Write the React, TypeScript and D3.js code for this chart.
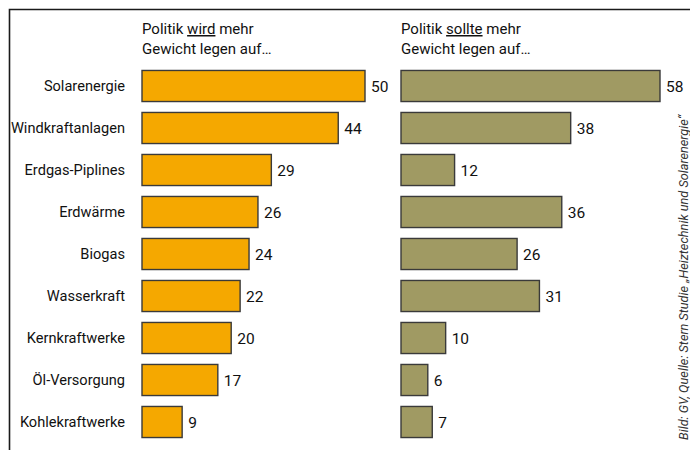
import React from "react";
import * as d3 from "d3";

const categories = [
  "Solarenergie",
  "Windkraftanlagen",
  "Erdgas-Piplines",
  "Erdwärme",
  "Biogas",
  "Wasserkraft",
  "Kernkraftwerke",
  "Öl-Versorgung",
  "Kohlekraftwerke",
];
const wirdValues = [50, 44, 29, 26, 24, 22, 20, 17, 9];
const sollteValues = [58, 38, 12, 36, 26, 31, 10, 6, 7];
const source = "Bild: GV, Quelle: Stern Studie „Heiztechnik und Solarenergie“";

const W = 690;
const H = 450;
const FONT = "Roboto, 'Liberation Sans', Arial, sans-serif";

export default function App() {
  const y = d3
    .scaleBand<string>()
    .domain(categories)
    .range([65, 443])
    .paddingInner(0.26)
    .paddingOuter(0.13);
  const xLeft = d3.scaleLinear().domain([0, 50]).range([142, 365]);
  const xRight = d3.scaleLinear().domain([0, 58]).range([401, 660]);
  const bh = y.bandwidth();

  return (
    <svg
      width={W}
      height={H}
      style={{ position: "fixed", left: 0, top: 0, background: "#fff" }}
      fontFamily={FONT}
    >
      <rect x={0} y={0} width={W} height={H} fill="#fff" />
      <path d={`M9.5,${H} V9.5 H${W}`} fill="none" stroke="#1a1a1a" strokeWidth={1.6} />

      <text x={142} y={34} fontSize={15} fill="#111">
        Politik <tspan textDecoration="underline">wird</tspan> mehr
      </text>
      <text x={142} y={54} fontSize={15} fill="#111">
        Gewicht legen auf…
      </text>
      <text x={401} y={34} fontSize={15} fill="#111">
        Politik <tspan textDecoration="underline">sollte</tspan> mehr
      </text>
      <text x={401} y={54} fontSize={15} fill="#111">
        Gewicht legen auf…
      </text>

      {categories.map((c, i) => {
        const yy = y(c)!;
        const cy = yy + bh / 2;
        return (
          <g key={c}>
            <text x={125} y={cy + 5} fontSize={14.6} textAnchor="end" fill="#111">
              {c}
            </text>
            <rect
              x={xLeft(0)}
              y={yy}
              width={xLeft(wirdValues[i]) - xLeft(0)}
              height={bh}
              fill="#F5A800"
              stroke="#3a3a3a"
              strokeWidth={1.4}
            />
            <text x={xLeft(wirdValues[i]) + 6} y={cy + 6} fontSize={15.5} fill="#111">
              {wirdValues[i]}
            </text>
            <rect
              x={xRight(0)}
              y={yy}
              width={xRight(sollteValues[i]) - xRight(0)}
              height={bh}
              fill="#A09A63"
              stroke="#3a3a3a"
              strokeWidth={1.4}
            />
            <text x={xRight(sollteValues[i]) + 6} y={cy + 6} fontSize={15.5} fill="#111">
              {sollteValues[i]}
            </text>
          </g>
        );
      })}

      <text
        transform="translate(688,440) rotate(-90)"
        fontSize={12.7}
        fontStyle="italic"
        fill="#333"
      >
        {source}
      </text>
    </svg>
  );
}
